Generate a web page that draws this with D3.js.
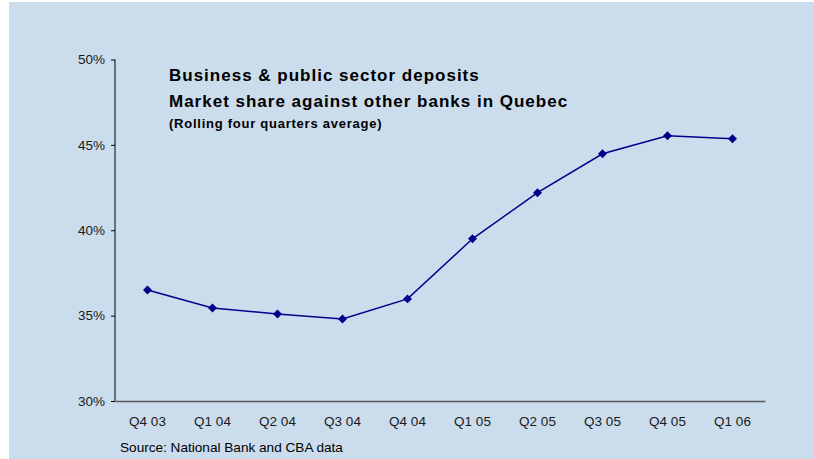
<!DOCTYPE html>
<html>
<head>
<meta charset="utf-8">
<script src="https://cdn.jsdelivr.net/npm/d3@7"></script>
<style>
  html, body { margin: 0; padding: 0; background: #ffffff; }
  svg { display: block; font-family: "Liberation Sans", Arial, sans-serif; }
</style>
</head>
<body>
<svg id="chart" width="814" height="459"></svg>
<script>
// Quarterly market share (%) of business & public sector deposits
const quarters = ["Q4 03", "Q1 04", "Q2 04", "Q3 04", "Q4 04", "Q1 05", "Q2 05", "Q3 05", "Q4 05", "Q1 06"];
const shareValues = [36.5, 35.45, 35.1, 34.8, 35.98, 39.5, 42.2, 44.48, 45.53, 45.36];
const yTicks = [30, 35, 40, 45, 50];
const titleLines = ["Business & public sector deposits", "Market share against other banks in Quebec"];
const subtitle = "(Rolling four quarters average)";
const sourceNote = "Source: National Bank and CBA data";

const svg = d3.select("#chart");

// panel background
svg.append("rect")
  .attr("x", 9).attr("y", 2)
  .attr("width", 805).attr("height", 457)
  .attr("fill", "#cbdcec");

const plotLeft = 115, plotRight = 765, plotTop = 59.5, plotBottom = 401;

const x = d3.scaleBand().domain(quarters).range([plotLeft, plotRight]);
const y = d3.scaleLinear().domain([30, 50]).range([plotBottom, plotTop]);

// y axis
const yAxis = svg.append("g")
  .attr("transform", `translate(${plotLeft},0)`)
  .call(d3.axisLeft(y).tickValues(yTicks).tickSize(4).tickPadding(6)
    .tickFormat(d => d + "%"));
yAxis.select(".domain").attr("stroke", "#000").attr("stroke-width", 1)
  .attr("d", `M0,${plotTop}V${plotBottom}`);
yAxis.selectAll(".tick line").attr("stroke", "#000");
yAxis.selectAll(".tick text")
  .attr("fill", "#1a1a1a").attr("font-size", 13.5)
  .attr("font-family", "Liberation Sans, Arial, sans-serif");

// x axis
const xAxis = svg.append("g")
  .attr("transform", `translate(0,${plotBottom})`)
  .call(d3.axisBottom(x).tickSize(0).tickPadding(15));
xAxis.select(".domain").attr("stroke", "#555a60").attr("stroke-width", 1.5);
xAxis.selectAll(".tick text")
  .attr("fill", "#1a1a1a").attr("font-size", 13.5)
  .attr("font-family", "Liberation Sans, Arial, sans-serif");

// series line
const pts = quarters.map((q, i) => [x(q) + x.bandwidth() / 2, y(shareValues[i])]);
svg.append("path")
  .datum(pts)
  .attr("fill", "none")
  .attr("stroke", "#00008b")
  .attr("stroke-width", 1.5)
  .attr("d", d3.line());

// diamond markers
svg.append("g").selectAll("path")
  .data(pts)
  .join("path")
  .attr("transform", d => `translate(${d[0]},${d[1]}) rotate(45)`)
  .attr("d", d3.symbol().type(d3.symbolSquare).size(40))
  .attr("fill", "#00008b");

// titles
const tg = svg.append("g").attr("font-weight", "bold").attr("fill", "#000");
titleLines.forEach((t, i) => {
  tg.append("text").attr("x", 169).attr("y", 81 + i * 26)
    .attr("font-size", 17).attr("letter-spacing", 1).text(t);
});
tg.append("text").attr("x", 169).attr("y", 128)
  .attr("font-size", 13).attr("letter-spacing", 0.75).text(subtitle);

// source
svg.append("text").attr("x", 120).attr("y", 451.5)
  .attr("font-size", 13.6).attr("fill", "#000").text(sourceNote);
</script>
</body>
</html>
